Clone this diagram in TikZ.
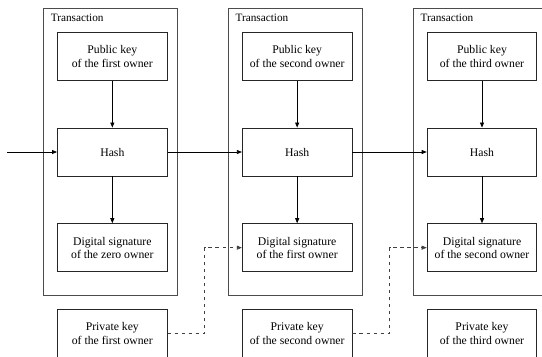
\documentclass[tikz,border=0pt]{standalone}
\usepackage{fontspec}
\setmainfont{Liberation Serif}
\usepackage{tikz}
\usetikzlibrary{arrows.meta,calc,positioning}
\tikzset{
  >={Triangle[length=1.5mm,width=1.2mm]},
  tframe/.style={draw=black!70, line width=0.8pt},
  tlbl/.style={anchor=base west, inner sep=0pt, font=\fontsize{9.6}{11}\selectfont},
  kbox/.style={draw=black!85, line width=0.75pt, align=center, inner sep=0pt,
               minimum width=3.29cm, minimum height=1.44cm,
               font=\fontsize{10}{11.4}\selectfont},
  flow/.style={->, black, line width=0.6pt},
  sign/.style={->, black!75, dashed, line width=0.6pt},
}
\begin{document}
\begin{tikzpicture}

  % area visivel
  \useasboundingbox (0,0) rectangle (16.26,-10.68);
  \clip (0,0) rectangle (16.26,-10.68);

  % transacoes
  \draw[tframe] (1.31,-0.25) rectangle (5.33,-8.87);
  \draw[tframe] (6.85,-0.25) rectangle (10.87,-8.87);
  \draw[tframe] (12.40,-0.25) rectangle (16.42,-8.87);
  \node[tlbl] (t1) at (1.52,-0.63) {Transaction};
  \node[tlbl] (t2) at (7.06,-0.63) {Transaction};
  \node[tlbl] (t3) at (12.61,-0.63) {Transaction};

  % primeira transacao
  \node[kbox] (pk1) at (3.37,-1.70) {Public key\\of the first owner};
  \node[kbox] (h1)  at (3.37,-4.56) {Hash};
  \node[kbox] (ds1) at (3.37,-7.43) {Digital signature\\of the zero owner};
  \node[kbox] (sk1) at (3.37,-10.0) {Private key\\of the first owner};

  % segunda transacao
  \node[kbox] (pk2) at (8.915,-1.70) {Public key\\of the second owner};
  \node[kbox] (h2)  at (8.915,-4.56) {Hash};
  \node[kbox] (ds2) at (8.915,-7.43) {Digital signature\\of the first owner};
  \node[kbox] (sk2) at (8.915,-10.0) {Private key\\of the second owner};

  % terceira transacao
  \node[kbox] (pk3) at (14.46,-1.70) {Public key\\of the third owner};
  \node[kbox] (h3)  at (14.46,-4.56) {Hash};
  \node[kbox] (ds3) at (14.46,-7.43) {Digital signature\\of the second owner};
  \node[kbox] (sk3) at (14.46,-10.0) {Private key\\of the third owner};

  % entrada
  \coordinate (in) at (0.21,-4.56);
  \draw[flow] (in) -- (h1.west);

  % ligacoes dentro das transacoes
  \draw[flow] (pk1) -- (h1);
  \draw[flow] (h1) -- (ds1);
  \draw[flow] (pk2) -- (h2);
  \draw[flow] (h2) -- (ds2);
  \draw[flow] (pk3) -- (h3);
  \draw[flow] (h3) -- (ds3);

  % cadeia de hashes
  \draw[flow] (h1.east) -- (h2.west);
  \draw[flow] (h2.east) -- (h3.west);

  % assinaturas
  \draw[sign] (sk1.east) -| ($(sk1.east)!0.5!(ds2.west)$) |- (ds2.west);
  \draw[sign] (sk2.east) -| ($(sk2.east)!0.5!(ds3.west)$) |- (ds3.west);

\end{tikzpicture}
\end{document}
